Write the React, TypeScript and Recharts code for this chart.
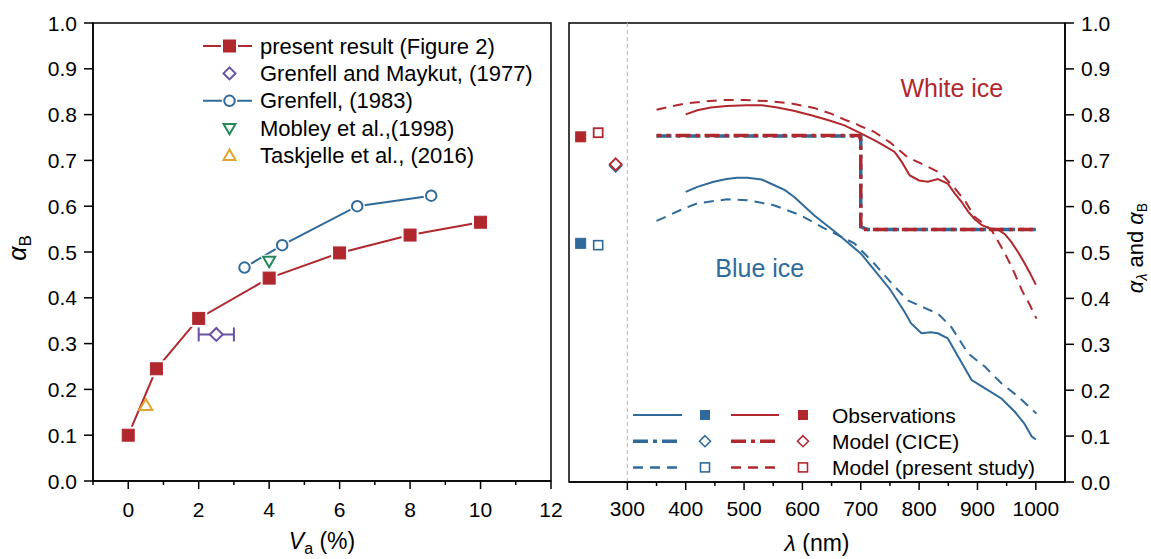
import React from "react";
import {
  ComposedChart,
  Line,
  Scatter,
  XAxis,
  YAxis,
  ReferenceLine,
  ReferenceArea,
  ReferenceDot,
  ErrorBar,
  Legend,
} from "recharts";

const FONT = "'Liberation Sans', Arial, Helvetica, sans-serif";
const RED = "#B0282E";
const BLUE = "#2F6A9B";
const PURPLE = "#6A52A3";
const GREEN = "#26885A";
const ORANGE = "#E2A42E";
const INK = "#000";

// ---- left panel: broadband albedo vs. air volume fraction
const presentVa = [0, 0.8, 2, 4, 6, 8, 10];
const presentAlb = [0.1, 0.245, 0.355, 0.443, 0.498, 0.537, 0.565];
const grenfell83Va = [3.3, 4.37, 6.5, 8.6];
const grenfell83Alb = [0.466, 0.515, 0.6, 0.623];
const maykutVa = [2.5];
const maykutAlb = [0.32];
const maykutErr = [0.5];
const mobleyVa = [4];
const mobleyAlb = [0.48];
const taskjelleVa = [0.5];
const taskjelleAlb = [0.165];

const vaTicks = [-1, 0, 1, 2, 3, 4, 5, 6, 7, 8, 9, 10, 11, 12];
const albTicks = [0, 0.1, 0.2, 0.3, 0.4, 0.5, 0.6, 0.7, 0.8, 0.9, 1.0];
const leftLegendLabels = [
  "present result (Figure 2)",
  "Grenfell and Maykut, (1977)",
  "Grenfell, (1983)",
  "Mobley et al.,(1998)",
  "Taskjelle et al., (2016)",
];

// ---- right panel: spectral albedo
const wlTicks = [300, 350, 400, 450, 500, 550, 600, 650, 700, 750, 800, 850, 900, 950, 1000];

const whiteObsWl = [400, 420, 443, 470, 505, 530, 557, 585, 615, 645, 672, 695, 723, 740, 758, 770, 784, 800, 815, 832, 849, 861, 873, 884, 895, 907, 920, 936, 947, 958, 970, 981, 990, 1000];
const whiteObsAlb = [0.801, 0.81, 0.816, 0.819, 0.821, 0.821, 0.816, 0.809, 0.799, 0.788, 0.777, 0.763, 0.745, 0.733, 0.719, 0.698, 0.668, 0.657, 0.654, 0.66, 0.65, 0.629, 0.61, 0.589, 0.573, 0.56, 0.553, 0.549, 0.54, 0.523, 0.5, 0.476, 0.455, 0.43];

const whiteModWl = [350, 375, 400, 431, 460, 500, 540, 580, 620, 650, 675, 689, 700, 723, 750, 780, 810, 838, 861, 880, 895, 910, 924, 935, 947, 960, 976, 990, 1001];
const whiteModAlb = [0.811, 0.818, 0.825, 0.829, 0.832, 0.832, 0.83, 0.825, 0.815, 0.802, 0.788, 0.782, 0.775, 0.763, 0.74, 0.708, 0.69, 0.672, 0.64, 0.61, 0.578, 0.563, 0.549, 0.525, 0.498, 0.465, 0.418, 0.385, 0.356];

const blueObsWl = [400, 420, 448, 470, 488, 506, 530, 551, 570, 586, 620, 660, 700, 723, 750, 775, 786, 804, 820, 832, 849, 867, 890, 913, 941, 964, 980, 993, 1000];
const blueObsAlb = [0.632, 0.643, 0.654, 0.66, 0.663, 0.663, 0.659, 0.647, 0.636, 0.621, 0.581, 0.541, 0.498, 0.462, 0.42, 0.371, 0.346, 0.324, 0.326, 0.324, 0.313, 0.273, 0.222, 0.204, 0.182, 0.153, 0.128, 0.099, 0.093];

const blueModWl = [350, 375, 397, 420, 471, 506, 551, 597, 643, 689, 723, 750, 780, 810, 832, 855, 884, 913, 941, 970, 1001];
const blueModAlb = [0.569, 0.583, 0.596, 0.607, 0.616, 0.614, 0.603, 0.581, 0.549, 0.52, 0.476, 0.437, 0.396, 0.379, 0.367, 0.338, 0.28, 0.251, 0.215, 0.186, 0.149];

const whiteCiceWl = [350, 697, 700, 700, 1000];
const whiteCiceAlb = [0.755, 0.755, 0.745, 0.55, 0.55];
const blueCiceWl = [350, 700, 700, 712, 1000];
const blueCiceAlb = [0.754, 0.754, 0.556, 0.55, 0.55];

// broadband values, drawn left of the 300 nm line: observed, present study, CICE
const whiteBbWl = [220, 250, 280];
const whiteBbAlb = [0.752, 0.761, 0.692];
const blueBbWl = [220, 250, 280];
const blueBbAlb = [0.52, 0.516, 0.689];

const rightLegendLabels = ["Observations", "Model (CICE)", "Model (present study)"];

const zip = (xs: number[], ys: number[], extra?: number[]) =>
  xs.map((x, i) => (extra ? { x, y: ys[i], err: extra[i] } : { x, y: ys[i] }));

const CICE_DASH = "15 5 4 5";
const MOD_DASH = "10 7";

function shapeEl(kind: string, cx: number, cy: number, s: number, fill: string, stroke: string, sw: number) {
  const h = s / 2;
  switch (kind) {
    case "sq":
    case "osq":
      return <rect x={cx - h} y={cy - h} width={s} height={s} fill={fill} stroke={stroke} strokeWidth={sw} />;
    case "dia":
      return (
        <polygon
          points={`${cx},${cy - h} ${cx + h},${cy} ${cx},${cy + h} ${cx - h},${cy}`}
          fill={fill}
          stroke={stroke}
          strokeWidth={sw}
        />
      );
    case "circ":
      return <circle cx={cx} cy={cy} r={h} fill={fill} stroke={stroke} strokeWidth={sw} />;
    case "tup":
      return (
        <polygon
          points={`${cx},${cy - h} ${cx + h},${cy + h * 0.72} ${cx - h},${cy + h * 0.72}`}
          fill={fill}
          stroke={stroke}
          strokeWidth={sw}
        />
      );
    case "tdown":
    default:
      return (
        <polygon
          points={`${cx},${cy + h} ${cx + h},${cy - h * 0.72} ${cx - h},${cy - h * 0.72}`}
          fill={fill}
          stroke={stroke}
          strokeWidth={sw}
        />
      );
  }
}

function Marker({ kind, cx, cy, color, size = 12, sw = 2, halo = 0 }: any) {
  if (cx == null || cy == null) return null;
  const filled = kind === "sq";
  return (
    <g>
      {halo > 0 && shapeEl(kind, cx, cy, size, "#fff", "#fff", halo)}
      {shapeEl(kind, cx, cy, size, filled ? color : "#fff", color, filled ? 1 : sw)}
    </g>
  );
}

// ticks are drawn by hand so that minor ticks can be shorter
function BottomTick({ x, y, payload, step, first, last, dy }: any) {
  const v = payload.value;
  const major = v % step === 0 && v >= first && v <= last;
  return (
    <g>
      <line x1={x} y1={y} x2={x} y2={y + (major ? 8 : 4)} stroke={INK} strokeWidth={1.5} />
      {major && (
        <text x={x} y={y + dy} textAnchor="middle" fontSize={21} fontFamily={FONT} fill={INK}>
          {v}
        </text>
      )}
    </g>
  );
}

function SideTick({ x, y, payload, side }: any) {
  const v = payload.value as number;
  const dir = side === "left" ? -1 : 1;
  return (
    <g>
      <line x1={x} y1={y} x2={x + dir * 9} y2={y} stroke={INK} strokeWidth={1.5} />
      <text
        x={x + dir * 16}
        y={y + 7.5}
        textAnchor={side === "left" ? "end" : "start"}
        fontSize={21}
        fontFamily={FONT}
        fill={INK}
      >
        {v.toFixed(1)}
      </text>
    </g>
  );
}

function LeftLegend() {
  const kinds = ["sq", "dia", "circ", "tdown", "tup"];
  const colors = [RED, PURPLE, BLUE, GREEN, ORANGE];
  const withLine = [true, false, true, false, false];
  return (
    <svg width={330} height={145} style={{ display: "block", overflow: "visible" }}>
      {leftLegendLabels.map((label, i) => {
        const y = 18 + i * 27.4;
        return (
          <g key={label}>
            {withLine[i] && <line x1={13} y1={y} x2={62} y2={y} stroke={colors[i]} strokeWidth={2} />}
            <Marker kind={kinds[i]} cx={39.5} cy={y} color={colors[i]} size={i === 2 ? 10.5 : 12} halo={withLine[i] ? 5 : 0} />
            <text x={70} y={y + 7.5} fontSize={22} fontFamily={FONT} fill={INK}>
              {label}
            </text>
          </g>
        );
      })}
    </svg>
  );
}

function RightLegend() {
  const dashes = [undefined, CICE_DASH, MOD_DASH];
  const kinds = ["sq", "dia", "osq"];
  const widths = [2, 3.5, 2.5];
  return (
    <svg width={440} height={80} style={{ display: "block", overflow: "visible" }}>
      {rightLegendLabels.map((label, i) => {
        const y = 15 + i * 26.2;
        return (
          <g key={label}>
            <line x1={13} y1={y} x2={62} y2={y} stroke={BLUE} strokeWidth={widths[i]} strokeDasharray={dashes[i]} />
            <Marker kind={kinds[i]} cx={85} cy={y} color={BLUE} size={kinds[i] === "dia" ? 11 : 9} sw={1.6} />
            <line x1={111} y1={y} x2={159} y2={y} stroke={RED} strokeWidth={widths[i]} strokeDasharray={dashes[i]} />
            <Marker kind={kinds[i]} cx={183} cy={y} color={RED} size={kinds[i] === "dia" ? 11 : 9} sw={1.6} />
            <text x={212} y={y + 7.5} fontSize={21} fontFamily={FONT} fill={INK}>
              {label}
            </text>
          </g>
        );
      })}
    </svg>
  );
}

function LeftPanel() {
  return (
    <ComposedChart width={600} height={559} margin={{ top: 23, right: 49, bottom: 48, left: 33 }}>
      <XAxis
        dataKey="x"
        type="number"
        domain={[-1, 12]}
        ticks={vaTicks}
        interval={0}
        allowDataOverflow
        height={30}
        tickSize={0}
        tickMargin={0}
        axisLine={{ stroke: INK, strokeWidth: 1.5 }}
        tick={<BottomTick step={2} first={0} last={12} dy={36} />}
        label={(p: any) => {
          const vb = p.viewBox || {};
          const cx = (vb.x ?? 93) + (vb.width ?? 458) / 2;
          return (
            <text x={cx} y={549} textAnchor="middle" fontSize={23} fontFamily={FONT} fill={INK}>
              <tspan fontStyle="italic">V</tspan>
              <tspan fontSize={16} dy={5}>a</tspan>
              <tspan dy={-5}> (%)</tspan>
            </text>
          );
        }}
      />
      <YAxis
        type="number"
        domain={[0, 1]}
        ticks={albTicks}
        interval={0}
        allowDataOverflow
        width={60}
        tickSize={0}
        tickMargin={0}
        axisLine={{ stroke: INK, strokeWidth: 1.5 }}
        tick={<SideTick side="left" />}
        label={() => (
          <text
            x={26}
            y={248}
            transform="rotate(-90 26 248)"
            textAnchor="middle"
            fontSize={25}
            fontFamily={FONT}
            fill={INK}
          >
            <tspan fontStyle="italic">α</tspan>
            <tspan fontSize={17} dy={5}>B</tspan>
          </text>
        )}
      />
      <ReferenceArea x1={-1} x2={12} y1={0} y2={1} fill="none" fillOpacity={0} stroke={INK} strokeWidth={1.5} />
      <Line
        data={zip(presentVa, presentAlb)}
        dataKey="y"
        stroke={RED}
        strokeWidth={2}
        isAnimationActive={false}
        dot={(p: any) => <Marker key={`p${p.index}`} kind="sq" cx={p.cx} cy={p.cy} color={RED} size={12} halo={5} />}
        activeDot={false}
      />
      <Line
        data={zip(grenfell83Va, grenfell83Alb)}
        dataKey="y"
        stroke={BLUE}
        strokeWidth={2}
        isAnimationActive={false}
        dot={(p: any) => <Marker key={`g${p.index}`} kind="circ" cx={p.cx} cy={p.cy} color={BLUE} size={10.5} halo={5} />}
        activeDot={false}
      />
      <Scatter
        data={zip(maykutVa, maykutAlb, maykutErr)}
        dataKey="y"
        isAnimationActive={false}
        shape={(p: any) => <Marker kind="dia" cx={p.cx} cy={p.cy} color={PURPLE} size={13} />}
      >
        <ErrorBar dataKey="err" direction="x" width={7} stroke={PURPLE} strokeWidth={2} />
      </Scatter>
      <Scatter
        data={zip(mobleyVa, mobleyAlb)}
        dataKey="y"
        isAnimationActive={false}
        shape={(p: any) => <Marker kind="tdown" cx={p.cx} cy={p.cy} color={GREEN} size={12} halo={4} />}
      />
      <Scatter
        data={zip(taskjelleVa, taskjelleAlb)}
        dataKey="y"
        isAnimationActive={false}
        shape={(p: any) => <Marker kind="tup" cx={p.cx} cy={p.cy} color={ORANGE} size={13} />}
      />
      <Legend
        layout="vertical"
        align="center"
        verticalAlign="middle"
        content={() => <LeftLegend />}
        wrapperStyle={{ position: "absolute", left: 190, top: 28, width: 330, height: 145 }}
      />
    </ComposedChart>
  );
}

function RightPanel() {
  return (
    <ComposedChart width={591} height={559} margin={{ top: 23, right: 26, bottom: 47, left: 9 }}>
      <XAxis
        dataKey="x"
        type="number"
        domain={[200, 1050]}
        ticks={wlTicks}
        interval={0}
        allowDataOverflow
        height={30}
        tickSize={0}
        tickMargin={0}
        axisLine={{ stroke: INK, strokeWidth: 1.5 }}
        tick={<BottomTick step={100} first={300} last={1000} dy={34} />}
        label={(p: any) => {
          const vb = p.viewBox || {};
          const cx = (vb.x ?? 9) + (vb.width ?? 496) / 2;
          return (
            <text x={cx} y={551} textAnchor="middle" fontSize={23} fontFamily={FONT} fill={INK}>
              <tspan fontStyle="italic">λ</tspan>
              <tspan> (nm)</tspan>
            </text>
          );
        }}
      />
      <YAxis
        orientation="right"
        type="number"
        domain={[0, 1]}
        ticks={albTicks}
        interval={0}
        allowDataOverflow
        width={60}
        tickSize={0}
        tickMargin={0}
        axisLine={{ stroke: INK, strokeWidth: 1.5 }}
        tick={<SideTick side="right" />}
        label={() => (
          <text
            x={583}
            y={248}
            transform="rotate(-90 583 248)"
            textAnchor="middle"
            fontSize={22}
            fontFamily={FONT}
            fill={INK}
          >
            <tspan fontStyle="italic">α</tspan>
            <tspan fontSize={14} fontStyle="italic" dy={4}>λ</tspan>
            <tspan dy={-4}> and </tspan>
            <tspan fontStyle="italic">α</tspan>
            <tspan fontSize={14} dy={4}>B</tspan>
          </text>
        )}
      />
      <ReferenceArea x1={200} x2={1050} y1={0} y2={1} fill="none" fillOpacity={0} stroke={INK} strokeWidth={1.5} />
      <ReferenceLine x={300} stroke="#b8b8b8" strokeWidth={1} strokeDasharray="4 3" />

      <Line data={zip(blueCiceWl, blueCiceAlb)} dataKey="y" stroke={BLUE} strokeWidth={3.5} strokeDasharray={CICE_DASH} dot={false} activeDot={false} isAnimationActive={false} />
      <Line data={zip(whiteCiceWl, whiteCiceAlb)} dataKey="y" stroke={RED} strokeWidth={3.5} strokeDasharray={CICE_DASH} strokeDashoffset={10} dot={false} activeDot={false} isAnimationActive={false} />
      <Line data={zip(whiteModWl, whiteModAlb)} dataKey="y" stroke={RED} strokeWidth={2} strokeDasharray={MOD_DASH} dot={false} activeDot={false} isAnimationActive={false} />
      <Line data={zip(whiteObsWl, whiteObsAlb)} dataKey="y" stroke={RED} strokeWidth={2} dot={false} activeDot={false} isAnimationActive={false} />
      <Line data={zip(blueModWl, blueModAlb)} dataKey="y" stroke={BLUE} strokeWidth={2} strokeDasharray={MOD_DASH} dot={false} activeDot={false} isAnimationActive={false} />
      <Line data={zip(blueObsWl, blueObsAlb)} dataKey="y" stroke={BLUE} strokeWidth={2} dot={false} activeDot={false} isAnimationActive={false} />

      <Scatter
        data={zip(blueBbWl, blueBbAlb)}
        dataKey="y"
        isAnimationActive={false}
        shape={(p: any) => {
          const kind = ["sq", "osq", "dia"][p.index ?? 0];
          return <Marker kind={kind} cx={p.cx} cy={p.cy} color={BLUE} size={kind === "dia" ? 12 : kind === "sq" ? 10 : 9} sw={1.6} />;
        }}
      />
      <Scatter
        data={zip(whiteBbWl, whiteBbAlb)}
        dataKey="y"
        isAnimationActive={false}
        shape={(p: any) => {
          const kind = ["sq", "osq", "dia"][p.index ?? 0];
          return <Marker kind={kind} cx={p.cx} cy={p.cy} color={RED} size={kind === "dia" ? 12 : kind === "sq" ? 10 : 9} sw={1.8} />;
        }}
      />

      <ReferenceDot
        x={856}
        y={0.858}
        r={1}
        fill="none"
        stroke="none"
        label={{ value: "White ice", position: "center", fill: RED, fontSize: 25, fontFamily: FONT }}
      />
      <ReferenceDot
        x={527}
        y={0.467}
        r={1}
        fill="none"
        stroke="none"
        label={{ value: "Blue ice", position: "center", fill: BLUE, fontSize: 25, fontFamily: FONT }}
      />
      <Legend
        layout="vertical"
        align="center"
        verticalAlign="middle"
        content={() => <RightLegend />}
        wrapperStyle={{ position: "absolute", left: 60, top: 400, width: 440, height: 80 }}
      />
    </ComposedChart>
  );
}

export default function App() {
  return (
    <div style={{ position: "absolute", left: 0, top: 0, width: 1151, height: 559, background: "#fff", fontFamily: FONT }}>
      <div style={{ position: "absolute", left: 0, top: 0 }}>
        <LeftPanel />
      </div>
      <div style={{ position: "absolute", left: 560, top: 0 }}>
        <RightPanel />
      </div>
    </div>
  );
}
